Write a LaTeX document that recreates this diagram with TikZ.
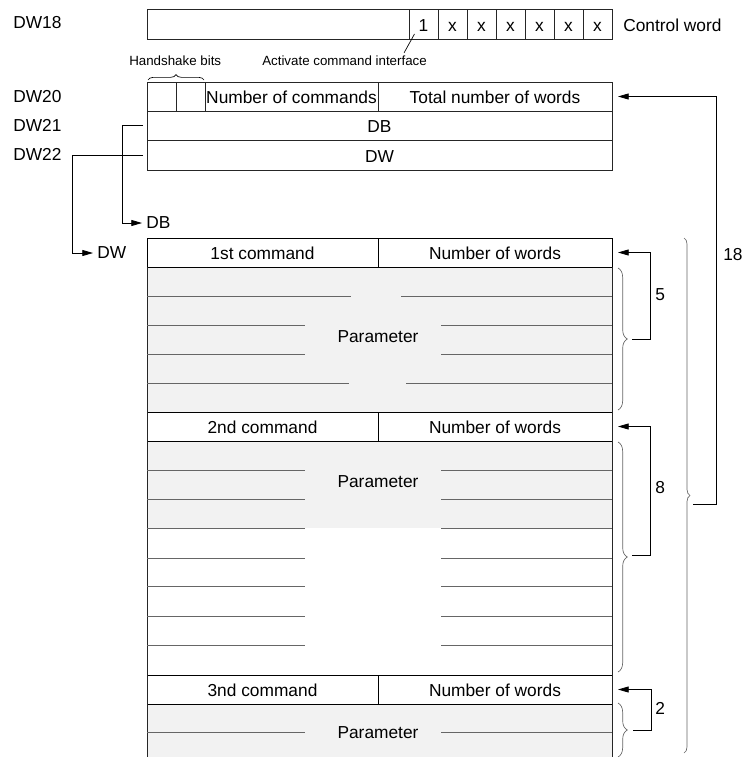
\documentclass[tikz,border=0pt]{standalone}
\usepackage{fontspec}
\setmainfont{Liberation Sans}
\usepackage{xcolor}
\usepackage{tikz}
\usetikzlibrary{arrows.meta, positioning, calc, decorations.pathreplacing}
\definecolor{parfill}{RGB}{242,242,242}
\tikzset{
  cell/.style={rectangle, draw=black!85, line width=0.6pt, inner sep=0pt, outer sep=0pt,
               minimum height=21.75pt, text height=10.5pt, text depth=0pt,
               font=\fontsize{13}{15}\selectfont, anchor=north west},
  bit/.style={cell, minimum width=21.75pt, minimum height=22.5pt},
  head/.style={cell, draw=black, line width=0.75pt, fill=white},
  lbl/.style={inner sep=0pt, anchor=west, font=\fontsize{13}{15}\selectfont},
  par/.style={inner sep=0pt, text height=9.4pt, text depth=0pt, font=\fontsize{13}{15}\selectfont},
  note/.style={inner sep=0pt, anchor=west, font=\fontsize{10}{12}\selectfont},
  parline/.style={draw=black!60, line width=0.7pt},
  frame/.style={draw=black!85, line width=0.7pt},
  brc/.style={decorate, decoration={brace, amplitude=7pt}, draw=black!60, line width=0.5pt},
  arc/.style={-{Triangle[length=8pt, width=4.5pt]}, line width=0.6pt}
}
\begin{document}
\begin{tikzpicture}[x=0.75pt, y=-0.75pt]
  \useasboundingbox (0,0) rectangle (744,757);
  % grey parameter areas
  \fill[parfill] (147,267) rectangle (612,412);
  \fill[parfill] (147,441) rectangle (612,528);
  \fill[parfill] (147,704) rectangle (612,757);

  % control word
  \node[cell, minimum width=196.5pt, minimum height=22.5pt] (cw) at (147,9) {};
  \foreach \b [count=\i from 0] in {1,x,x,x,x,x,x}
    \node[bit] (b\i) at (409+29*\i,9) {\b};
  \node[lbl] (lblcw) at (623,25) {Control word};
  \node[note] (lblhs) at (129,61) {Handshake bits};
  \node[note] (lblact) at (262,61) {Activate command interface};
  \draw[line width=0.5pt] ([shift={(-9,10)}]b0.center) -- ([shift={(-23,-3)}]lblact.north east);
  \draw[decorate, decoration={brace, amplitude=4pt}, line width=0.5pt] (148,80) -- (204,80);

  % interface words
  \node[cell, minimum width=21.75pt] (hs1) at (147,82) {};
  \node[cell, minimum width=21.75pt] (hs2) at (176,82) {};
  \node[cell, minimum width=129.75pt] (ncmd) at (205,82) {Number of commands};
  \node[cell, minimum width=175.5pt] (tw) at (378,82) {Total number of words};
  \node[cell, minimum width=348.75pt] (rowdb) at (147,111) {DB};
  \node[cell, minimum width=348.75pt, minimum height=22.5pt] (rowdw) at (147,140) {DW};
  \foreach \n/\y in {18/23, 20/97, 21/125, 22/154}
    \node[lbl] (dw\n) at (13,\y) {DW\n};

  % pointers
  \node[lbl] (lbldb) at (146,223) {DB};
  \node[lbl] (lbldw) at (97,253) {DW};
  \draw[arc] ([xshift=-3pt]rowdb.west) -| ([xshift=-18pt]lbldb.west) -- ([xshift=-3pt]lbldb.west);
  \draw[arc] ([xshift=-3pt]rowdw.west) -| ([xshift=-18.75pt]lbldw.west) -- ([xshift=-3pt]lbldw.west);

  % command list
  \foreach \n/\t/\y in {1/1st/238, 2/2nd/412, 3/3nd/675} {
    \node[head, minimum width=173.25pt] (c\n) at (147,\y) {\t\ command};
    \node[head, minimum width=175.5pt] (w\n) at (378,\y) {Number of words};
  }
  \draw[frame] (c1.south west) -- (147,757);
  \draw[frame] (w1.south east) -- (612,757);
  \draw[parline] (147,296) -- (351,296) (401,296) -- (612,296);
  \draw[parline] (147,383) -- (349,383) (406,383) -- (612,383);
  \foreach \y in {325,354,470,499,528,558,586,616,645,732}
    \draw[parline] (147,\y) -- (305,\y) (441,\y) -- (612,\y);
  \node[par] (par1) at (378,336) {Parameter};
  \node[par] (par2) at (378,481) {Parameter};
  \node[par] (par3) at (378,732) {Parameter};

  % word counts
  \draw[brc] (618,268) -- (618,410);
  \draw[brc] (618,442) -- (618,672);
  \draw[brc] (618,703) -- (618,757);
  \draw[brc, decoration={brace, amplitude=4.5pt}] (684,238) -- (684,753);
  \coordinate (k1) at (632,339);
  \coordinate (k2) at (632,555);
  \coordinate (k3) at (633,730);
  \coordinate (k18) at (693,504);
  \draw[arc] (k1) -- ++(18,0) |- ([xshift=4.5pt]w1.east);
  \draw[arc] (k2) -- ++(18,0) |- ([xshift=4.5pt]w2.east);
  \draw[arc] (k3) -- ++(18,0) |- ([xshift=4.5pt]w3.east);
  \draw[arc] (k18) -- ++(23,0) |- ([xshift=4.5pt]tw.east);
  \node[lbl] (n5) at (655,295) {5};
  \node[lbl] (n8) at (655,488) {8};
  \node[lbl] (n2) at (655,708) {2};
  \node[lbl] (n18) at (723,255) {18};
\end{tikzpicture}
\end{document}
